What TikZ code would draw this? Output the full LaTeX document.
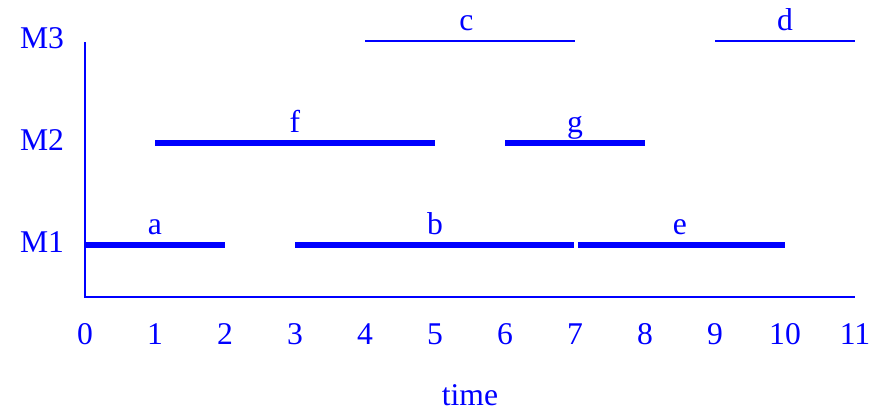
\documentclass[tikz,border=0pt]{standalone}
\usepackage{fontspec}
\setmainfont{Liberation Serif}
\usetikzlibrary{positioning}
\definecolor{myblue}{RGB}{0,0,255}
\tikzset{
  axisline/.style={line width=1.4pt, color=myblue},
  jobbar/.style={line width=3.6pt, color=myblue},
  thinbar/.style={line width=0.9pt, color=myblue},
  txt/.style={inner sep=0pt, anchor=base, text=myblue,
    font=\fontsize{22.5}{27}\selectfont}
}

\begin{document}
\begin{tikzpicture}[x=1.75cm, y=2.55cm]
  \useasboundingbox (-1.2143,-1.6176) rectangle (11.3143,2.402);

  % Axes
  \coordinate (orig) at (0,-0.51);
  \coordinate (ytop) at (0,1.99);
  \coordinate (xend) at (11,-0.51);
  \draw[axisline] (ytop) -- (orig) -- (xend);

  % Machine labels
  \node[txt] (m1) at (-0.614,-0.069) {M1};
  \node[txt] (m2) at (-0.614,0.931) {M2};
  \node[txt] (m3) at (-0.614,1.931) {M3};

  % Time ticks
  \foreach \t in {0,...,11}
    \node[txt] (t\t) at (\t,-0.98) {\t};
  \node[txt] (time) at (5.5,-1.57) {time};

  % Machine 1
  \draw[jobbar] (0,0) -- (2,0);
  \draw[jobbar] (3,0) -- (6.98,0);
  \draw[jobbar] (7.04,0) -- (10,0);
  \node[txt] (a) at (1,0.1) {a};
  \node[txt] (b) at (5,0.1) {b};
  \node[txt] (e) at (8.5,0.1) {e};

  % Machine 2
  \draw[jobbar] (1,1) -- (5,1);
  \draw[jobbar] (6,1) -- (8,1);
  \node[txt] (f) at (3,1.1) {f};
  \node[txt] (g) at (7,1.1) {g};

  % Machine 3
  \draw[thinbar] (4,2) -- (7,2);
  \draw[thinbar] (9,2) -- (11,2);
  \node[txt] (c) at (5.45,2.1) {c};
  \node[txt] (d) at (10,2.1) {d};
\end{tikzpicture}
\end{document}
